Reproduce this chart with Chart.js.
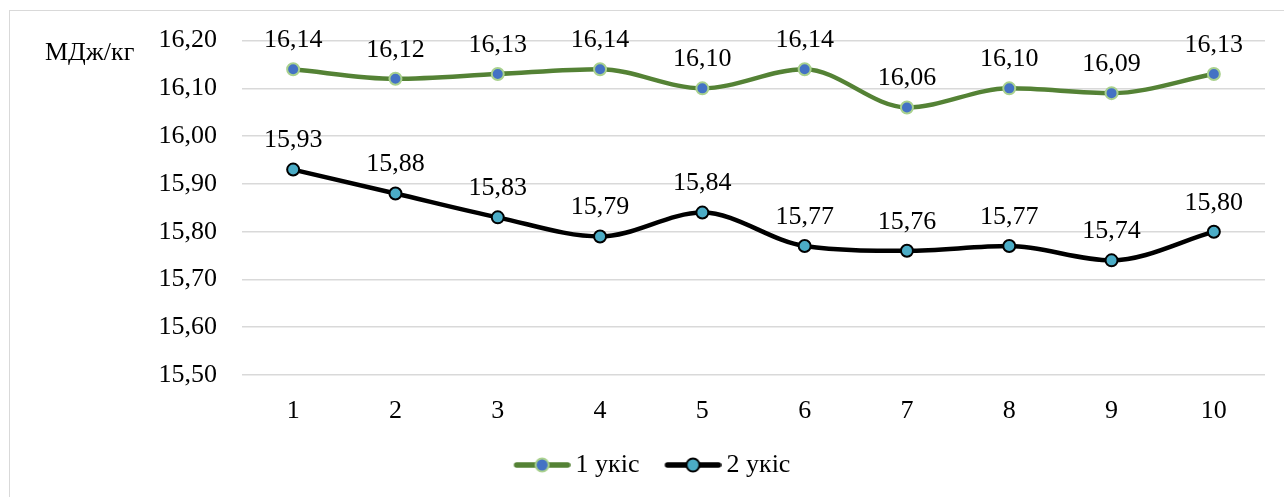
<!DOCTYPE html>
<html>
<head>
<meta charset="utf-8">
<script src="https://cdn.jsdelivr.net/npm/chart.js@4/dist/chart.umd.min.js"></script>
<style>
  html, body { margin: 0; padding: 0; background: #fff; }
  #wrap { width: 1284px; height: 497px; }
</style>
</head>
<body>
<div id="wrap"><canvas id="c" width="1284" height="497"></canvas></div>
<script>
const labels = ["1", "2", "3", "4", "5", "6", "7", "8", "9", "10"];
const cut1 = [16.14, 16.12, 16.13, 16.14, 16.10, 16.14, 16.06, 16.10, 16.09, 16.13];
const cut2 = [15.93, 15.88, 15.83, 15.79, 15.84, 15.77, 15.76, 15.77, 15.74, 15.80];
const seriesNames = ["1 укіс", "2 укіс"];
const yUnit = "МДж/кг";

const FONT = "'Liberation Serif', 'Times New Roman', serif";

// little line+marker picture for the legend (left part left blank on purpose)
function legendIcon(lineColor, fill, border) {
  const c = document.createElement("canvas");
  c.width = 70; c.height = 18;
  const x = c.getContext("2d");
  x.strokeStyle = lineColor; x.lineWidth = 5.5; x.lineCap = "round";
  x.beginPath(); x.moveTo(16, 9); x.lineTo(67, 9); x.stroke();
  x.fillStyle = fill; x.strokeStyle = border; x.lineWidth = 2;
  x.beginPath(); x.arc(41.5, 9, 6.5, 0, Math.PI * 2); x.fill(); x.stroke();
  return c;
}
const icons = [legendIcon("#548235", "#4472c4", "#a9d18e"), legendIcon("#000000", "#4bacc6", "#000000")];

const fmt = v => v.toFixed(2).replace(".", ",");

const extras = {
  id: "extras",
  beforeDraw(chart) {
    const ctx = chart.ctx;
    ctx.save();
    ctx.strokeStyle = "#d9d9d9"; ctx.lineWidth = 1;
    ctx.strokeRect(9.5, 10.5, 1300, 500);
    ctx.restore();
  },
  afterDatasetsDraw(chart) {
    const ctx = chart.ctx;
    ctx.save();
    ctx.font = "26px " + FONT;
    ctx.fillStyle = "#000";
    ctx.textAlign = "center";
    ctx.textBaseline = "middle";
    chart.data.datasets.forEach((ds, i) => {
      chart.getDatasetMeta(i).data.forEach((pt, j) => {
        ctx.fillText(fmt(ds.data[j]), pt.x, pt.y - 29);
      });
    });
    ctx.textAlign = "left";
    ctx.fillText(yUnit, 45, 53);
    ctx.restore();
  }
};

new Chart(document.getElementById("c"), {
  type: "line",
  data: {
    labels: labels,
    datasets: [
      {
        label: seriesNames[0],
        data: cut1,
        borderColor: "#548235",
        borderWidth: 4.5,
        pointBackgroundColor: "#4472c4",
        pointBorderColor: "#a9d18e",
        pointBorderWidth: 2,
        pointRadius: 6,
        tension: 0.4,
        cubicInterpolationMode: "monotone"
      },
      {
        label: seriesNames[1],
        data: cut2,
        borderColor: "#000000",
        borderWidth: 4.5,
        pointBackgroundColor: "#4bacc6",
        pointBorderColor: "#000000",
        pointBorderWidth: 2,
        pointRadius: 6,
        tension: 0.4,
        cubicInterpolationMode: "monotone"
      }
    ]
  },
  options: {
    responsive: false,
    animation: false,
    layout: { padding: { left: 34, right: 19, top: 39, bottom: 9 } },
    scales: {
      x: {
        offset: true,
        grid: { display: false },
        border: { display: false },
        ticks: { color: "#000", font: { family: FONT, size: 26 }, padding: 13 },
        afterFit: s => { s.height = 57; }
      },
      y: {
        min: 15.5,
        max: 16.2,
        grid: { color: "#d9d9d9", lineWidth: 1.5, drawTicks: false },
        border: { display: false },
        ticks: {
          stepSize: 0.1,
          color: "#000",
          padding: 25,
          font: { family: FONT, size: 26 },
          callback: v => fmt(v)
        },
        afterFit: s => { s.width = 208; }
      }
    },
    plugins: {
      tooltip: { enabled: false },
      legend: {
        position: "bottom",
        labels: {
          color: "#000",
          font: { family: FONT, size: 26 },
          usePointStyle: true,
          pointStyleWidth: 54,
          padding: 20,
          generateLabels(chart) {
            const items = Chart.defaults.plugins.legend.labels.generateLabels(chart);
            items.forEach((it, i) => { it.pointStyle = icons[i]; });
            return items;
          }
        }
      }
    }
  },
  plugins: [extras]
});
</script>
</body>
</html>
